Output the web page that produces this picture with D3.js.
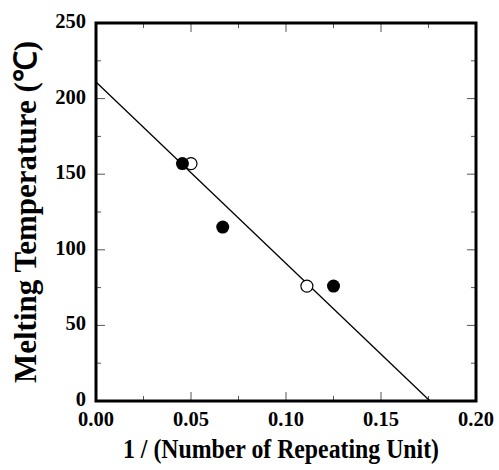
<!DOCTYPE html>
<html><head><meta charset="utf-8">
<script src="https://cdn.jsdelivr.net/npm/d3@7"></script>
<style>body{margin:0;background:#fff}</style>
</head><body>
<svg id="c" width="499" height="470"></svg>
<script>
const filledX = [0.0455, 0.0667, 0.125];
const filledY = [157, 115, 76];
const openX = [0.05, 0.111];
const openY = [157, 76];
const fitLine = [[0, 211], [0.1758, 0]];
const xTicks = [0, 0.05, 0.10, 0.15, 0.20];
const yTicks = [0, 50, 100, 150, 200, 250];

const svg = d3.select('#c');
const L = 96, R = 476, T = 23, B = 401;
const x = d3.scaleLinear().domain([0, 0.2]).range([L, R]);
const y = d3.scaleLinear().domain([0, 250]).range([B, T]);
const font = '"Liberation Serif","Times New Roman",serif';

// ticks inside
const xMinor = d3.range(0.025, 0.2, 0.05);
const yMinor = d3.range(25, 250, 50);
const tg = svg.append('g').attr('stroke', '#555').attr('stroke-width', 1);
xTicks.forEach(t => { tg.append('line').attr('x1', x(t)).attr('x2', x(t)).attr('y1', B).attr('y2', B - 9); tg.append('line').attr('x1', x(t)).attr('x2', x(t)).attr('y1', T).attr('y2', T + 9); });
xMinor.forEach(t => { tg.append('line').attr('x1', x(t)).attr('x2', x(t)).attr('y1', B).attr('y2', B - 5); tg.append('line').attr('x1', x(t)).attr('x2', x(t)).attr('y1', T).attr('y2', T + 5); });
yTicks.forEach(t => { tg.append('line').attr('y1', y(t)).attr('y2', y(t)).attr('x1', L).attr('x2', L + 9); tg.append('line').attr('y1', y(t)).attr('y2', y(t)).attr('x1', R).attr('x2', R - 9); });
yMinor.forEach(t => { tg.append('line').attr('y1', y(t)).attr('y2', y(t)).attr('x1', L).attr('x2', L + 5); tg.append('line').attr('y1', y(t)).attr('y2', y(t)).attr('x1', R).attr('x2', R - 5); });

// fit line
svg.append('line')
  .attr('x1', x(fitLine[0][0])).attr('y1', y(fitLine[0][1]))
  .attr('x2', x(fitLine[1][0])).attr('y2', y(fitLine[1][1]))
  .attr('stroke', '#000').attr('stroke-width', 1.3);

// frame
svg.append('rect').attr('x', L).attr('y', T).attr('width', R - L).attr('height', B - T)
  .attr('fill', 'none').attr('stroke', '#000').attr('stroke-width', 3);

// points
svg.selectAll('.o').data(openX).enter().append('circle')
  .attr('cx', d => x(d)).attr('cy', (d, i) => y(openY[i])).attr('r', 6)
  .attr('fill', '#fff').attr('stroke', '#000').attr('stroke-width', 1.2);
svg.selectAll('.f').data(filledX).enter().append('circle')
  .attr('cx', d => x(d)).attr('cy', (d, i) => y(filledY[i])).attr('r', 6.5)
  .attr('fill', '#000');

// tick labels
svg.selectAll('.xl').data(xTicks).enter().append('text')
  .attr('x', d => x(d)).attr('y', 426).attr('text-anchor', 'middle')
  .attr('font-family', font).attr('font-weight', 'bold').attr('font-size', 20.5)
  .text(d => d.toFixed(2));
svg.selectAll('.yl').data(yTicks).enter().append('text')
  .attr('x', 86).attr('y', d => y(d) + 5).attr('text-anchor', 'end')
  .attr('font-family', font).attr('font-weight', 'bold').attr('font-size', 20.5)
  .text(d => d);

// axis titles
svg.append('text').attr('transform', 'translate(281,458) scale(0.85,1)').attr('text-anchor', 'middle')
  .attr('font-family', font).attr('font-weight', 'bold').attr('font-size', 28)
  .text('1 / (Number of Repeating Unit)');
svg.append('text').attr('transform', 'translate(36,' + 212 + ') rotate(-90)')
  .attr('text-anchor', 'middle')
  .attr('font-family', font).attr('font-weight', 'bold').attr('font-size', 31)
  .text('Melting Temperature (℃)');
</script>
</body></html>
